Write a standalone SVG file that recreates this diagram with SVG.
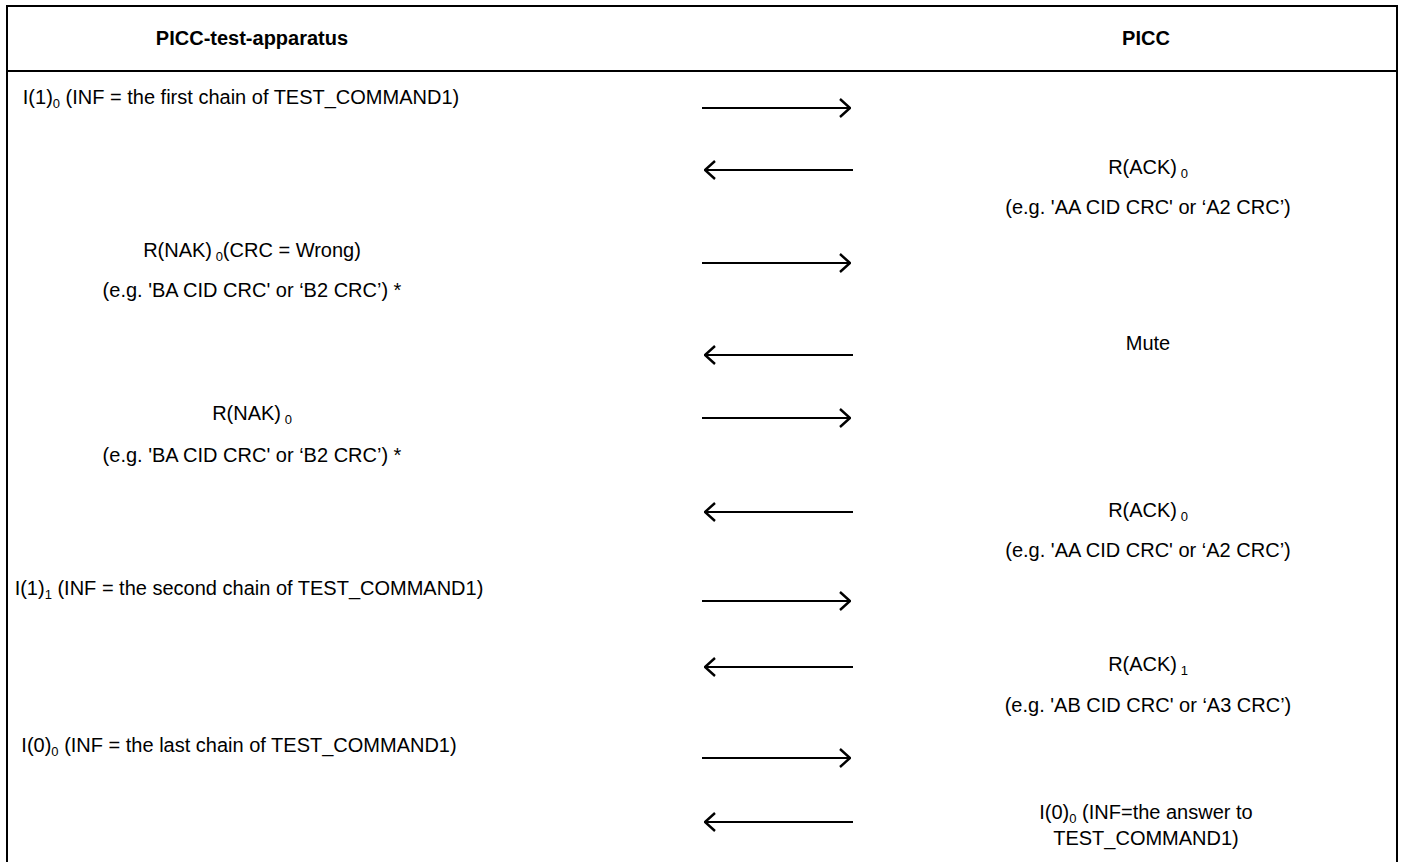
<svg xmlns="http://www.w3.org/2000/svg" width="1404" height="862" viewBox="0 0 1404 862">
<style>
text{font-family:"Liberation Sans",Arial,sans-serif;font-size:20px;fill:#000}
.h{font-weight:bold}
.c{text-anchor:middle}
.s{font-size:13px}
.frame{stroke:#000;stroke-width:2;fill:none}
.msg{stroke:#000;stroke-width:2;fill:none}
</style>
<defs>
<marker id="ah" viewBox="0 0 12 20" refX="11" refY="10" markerWidth="12" markerHeight="20" markerUnits="userSpaceOnUse" orient="auto-start-reverse">
<path d="M1,1 L11,10 L1,19" fill="none" stroke="#000" stroke-width="2.4"/>
</marker>
</defs>
<rect width="1404" height="862" fill="#fff"/>
<g id="frame">
<path class="frame" d="M7,862 V6 H1397 V862"/>
<line class="frame" x1="7" y1="71" x2="1397" y2="71"/>
</g>
<g id="hdr-apparatus"><text class="h c" x="252" y="45">PICC-test-apparatus</text></g>
<g id="hdr-picc"><text class="h c" x="1146" y="45">PICC</text></g>
<g id="m1"><text class="c" x="241" y="104">I(1)<tspan class="s" dy="4">0</tspan><tspan dy="-4"> (INF = the first chain of TEST_COMMAND1)</tspan></text></g>
<g id="m2"><text class="c" x="1148" y="174">R(ACK)<tspan class="s" dy="4"> 0</tspan></text>
<text class="c" x="1148" y="214">(e.g. 'AA CID CRC' or ‘A2 CRC’)</text></g>
<g id="m3"><text class="c" x="252" y="257">R(NAK)<tspan class="s" dy="4"> 0</tspan><tspan dy="-4">(CRC = Wrong)</tspan></text>
<text class="c" x="252" y="297">(e.g. 'BA CID CRC' or ‘B2 CRC’) *</text></g>
<g id="m4"><text class="c" x="1148" y="350">Mute</text></g>
<g id="m5"><text class="c" x="252" y="420">R(NAK)<tspan class="s" dy="4"> 0</tspan></text>
<text class="c" x="252" y="462">(e.g. 'BA CID CRC' or ‘B2 CRC’) *</text></g>
<g id="m6"><text class="c" x="1148" y="517">R(ACK)<tspan class="s" dy="4"> 0</tspan></text>
<text class="c" x="1148" y="557">(e.g. 'AA CID CRC' or ‘A2 CRC’)</text></g>
<g id="m7"><text class="c" x="249" y="595">I(1)<tspan class="s" dy="4">1</tspan><tspan dy="-4"> (INF = the second chain of TEST_COMMAND1)</tspan></text></g>
<g id="m8"><text class="c" x="1148" y="671">R(ACK)<tspan class="s" dy="4"> 1</tspan></text>
<text class="c" x="1148" y="712">(e.g. 'AB CID CRC' or ‘A3 CRC’)</text></g>
<g id="m9"><text class="c" x="239" y="752">I(0)<tspan class="s" dy="4">0</tspan><tspan dy="-4"> (INF = the last chain of TEST_COMMAND1)</tspan></text></g>
<g id="m10"><text class="c" x="1146" y="819">I(0)<tspan class="s" dy="4">0</tspan><tspan dy="-4"> (INF=the answer to</tspan></text>
<text class="c" x="1146" y="845">TEST_COMMAND1)</text></g>
<g id="connectors">
<line class="msg" x1="702" y1="108" x2="850" y2="108" marker-end="url(#ah)"/>
<line class="msg" x1="853" y1="170" x2="705" y2="170" marker-end="url(#ah)"/>
<line class="msg" x1="702" y1="263" x2="850" y2="263" marker-end="url(#ah)"/>
<line class="msg" x1="853" y1="355" x2="705" y2="355" marker-end="url(#ah)"/>
<line class="msg" x1="702" y1="418" x2="850" y2="418" marker-end="url(#ah)"/>
<line class="msg" x1="853" y1="512" x2="705" y2="512" marker-end="url(#ah)"/>
<line class="msg" x1="702" y1="601" x2="850" y2="601" marker-end="url(#ah)"/>
<line class="msg" x1="853" y1="667" x2="705" y2="667" marker-end="url(#ah)"/>
<line class="msg" x1="702" y1="758" x2="850" y2="758" marker-end="url(#ah)"/>
<line class="msg" x1="853" y1="822" x2="705" y2="822" marker-end="url(#ah)"/>
</g>
</svg>
